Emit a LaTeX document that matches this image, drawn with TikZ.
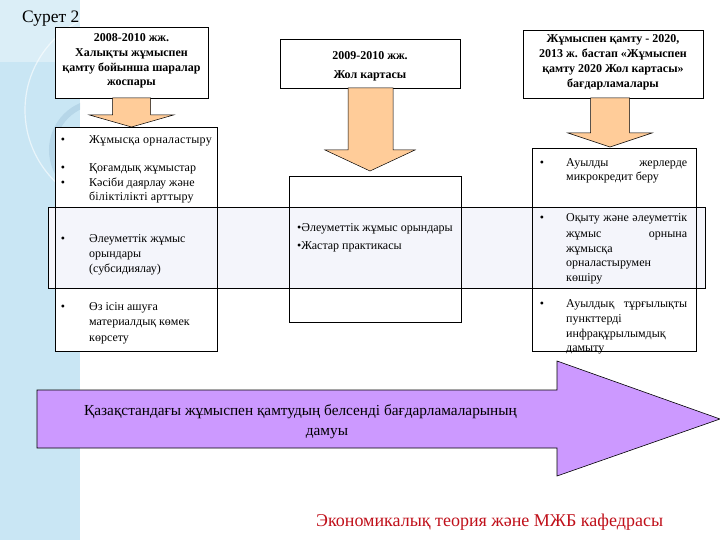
\documentclass[tikz,border=0pt]{standalone}
\usepackage{fontspec}
\setmainfont{Liberation Serif}
\usetikzlibrary{calc}
\definecolor{stripblue}{HTML}{C9E6F4}
\definecolor{peach}{HTML}{FFCC99}
\definecolor{lilac}{HTML}{CC99FF}
\definecolor{bandfill}{HTML}{F4F5FB}
\definecolor{footred}{HTML}{C0101A}
\definecolor{ringblue}{HTML}{9FC3DA}
\begin{document}
\begin{tikzpicture}[x=1pt,y=-1pt,
  box/.style={draw=black, line width=0.6pt, fill=white, inner sep=0, outer sep=0},
  headline/.style={anchor=base, inner sep=0, font=\bfseries\fontsize{12}{14}\selectfont},
  item/.style={anchor=base west, inner sep=0, font=\fontsize{12}{14}\selectfont},
  bul/.style={anchor=base, inner sep=0, font=\fontsize{12}{14}\selectfont},
  blockarrow/.style={fill=peach, draw=black, line width=0.5pt, line join=miter}]
\useasboundingbox (0,0) rectangle (720,540);
\fill[white] (0,0) rectangle (720,540);
% left decorative strip
\fill[stripblue] (0,0) rectangle (80,540);
\begin{scope}
  \clip (0,0) rectangle (80,540);
  \fill[white, opacity=0.35] (0,0) rectangle (80,62);
  \draw[white, opacity=0.6, line width=1.2pt] (125,110) circle (100);
  \draw[ringblue, opacity=0.45, line width=6pt] (100,150) circle (48);
\end{scope}
\node[anchor=base west, inner sep=0, font=\fontsize{17.5}{20}\selectfont] (title) at (22,23) {Сурет 2};

% top header boxes
\node[box, minimum width=153pt, minimum height=71pt] (b1) at (131.5,62.5) {};
\foreach \t [count=\i] in {2008-2010 жж., Халықты жұмыспен, қамту бойынша шаралар, жоспары}
  \node[headline] (b1l\i) at (131.5,{42+14.6*(\i-1)}) {\t};
\node[box, minimum width=180pt, minimum height=49pt] (b2) at (370,63.5) {};
\node[headline] (b2l1) at (370,60) {2009-2010 жж.};
\node[headline] (b2l2) at (370,79) {Жол картасы};
\node[box, minimum width=180pt, minimum height=68pt] (b3) at (613,64) {};
\foreach \t [count=\i] in {{Жұмыспен қамту - 2020,}, 2013 ж. бастап «Жұмыспен, қамту 2020 Жол картасы», бағдарламалары}
  \node[headline] (b3l\i) at (613,{43+14.8*(\i-1)}) {\t};

% content boxes
\node[box, minimum width=162pt, minimum height=224pt] (L) at (136,239) {};
\node[box, minimum width=172pt, minimum height=146pt] (M) at (375,249) {};
\node[box, minimum width=164pt, minimum height=203pt] (R) at (614,249.5) {};
% horizontal band
\node[draw=black, line width=0.6pt, fill=bandfill, inner sep=0, minimum width=657pt, minimum height=81pt] (band) at (376.5,247.5) {};
\draw[line width=0.6pt] (L.north west) rectangle (L.south east);
\draw[line width=0.6pt] (M.north west) rectangle (M.south east);
\draw[line width=0.6pt] (R.north west) rectangle (R.south east);

% block arrows from header boxes to content boxes
\draw[blockarrow] ($(b1.south)+(-19,0)$) -- ($(b1.south)+(19,0)$) -- ($(b1.south |- L.north)+(19,-12)$) -- ($(b1.south |- L.north)+(42,-12)$) -- (b1.south |- L.north) -- ($(b1.south |- L.north)+(-42,-12)$) -- ($(b1.south |- L.north)+(-19,-12)$) -- cycle;
\draw[blockarrow] ($(b2.south)+(-22,0)$) -- ($(b2.south)+(23,0)$) -- ($(b2.south |- M.north)+(23,-26)$) -- ($(b2.south |- M.north)+(45,-26)$) -- ($(b2.south |- M.north)+(0,-5)$) -- ($(b2.south |- M.north)+(-45,-26)$) -- ($(b2.south |- M.north)+(-22,-26)$) -- cycle;
\draw[blockarrow] ($(b3.south)+(-22.5,0)$) -- ($(b3.south)+(16.5,0)$) -- ($(b3.south |- R.north)+(16.5,-15)$) -- ($(b3.south |- R.north)+(39,-15)$) -- ($(b3.south |- R.north)+(-3,-1)$) -- ($(b3.south |- R.north)+(-45,-15)$) -- ($(b3.south |- R.north)+(-22.5,-15)$) -- cycle;

% left box items
\foreach \y [count=\i] in {144,172,187,242,310}
  \node[bul] (lb\i) at (63,\y) {•};
\node[item] (l1) at (89,144) {\addfontfeature{LetterSpace=2.5}Жұмысқа орналастыру};
\node[item] (l2) at (89,172) {Қоғамдық жұмыстар};
\node[item] (l3) at (89,187) {Кәсіби даярлау және};
\node[item] (l4) at (89,201) {\addfontfeature{LetterSpace=1.5}біліктілікті арттыру};
\node[item] (l5) at (89,242) {Әлеуметтік жұмыс};
\node[item] (l6) at (89,257) {орындары};
\node[item] (l7) at (89,272) {(субсидиялау)};
\node[item] (l8) at (89,310) {Өз ісін ашуға};
\node[item] (l9) at (89,325) {материалдық көмек};
\node[item] (l10) at (89,341) {көрсету};

% middle box items
\node[item] (m1) at (297,232) {•Әлеуметтік жұмыс орындары};
\node[item] (m2) at (297,249) {•Жастар практикасы};

% right box items
\foreach \y [count=\i] in {167,222,307}
  \node[bul] (rb\i) at (542,\y) {•};
\node[item] (r1) at (566,167) {\hbox to 121pt{Ауылды\hfill жерлерде}};
\node[item] (r2) at (566,181) {микрокредит беру};
\node[item] (r3) at (566,222) {\hbox to 121pt{Оқыту\hfill және\hfill әлеуметтік}};
\node[item] (r4) at (566,237) {\hbox to 121pt{жұмыс\hfill орнына}};
\node[item] (r5) at (566,252) {жұмысқа};
\node[item] (r6) at (566,266) {орналастырумен};
\node[item] (r7) at (566,281) {көшіру};
\node[item] (r8) at (566,307) {\hbox to 121pt{Ауылдық\hfill тұрғылықты}};
\node[item] (r9) at (566,322) {пункттерді};
\node[item] (r10) at (566,337) {инфрақұрылымдық};
\node[item] (r11) at (566,351) {дамыту};

% big purple arrow
\draw[fill=lilac, draw=black, line width=0.6pt, line join=miter] (37,390) -- (557,390) -- (557,361) -- (720,419) -- (557,476) -- (557,448) -- (37,448) -- cycle;
\node[anchor=base, inner sep=0, font=\fontsize{15.3}{18}\selectfont] (p1) at (300.5,415) {Қазақстандағы жұмыспен қамтудың белсенді бағдарламаларының};
\node[anchor=base, inner sep=0, font=\fontsize{15.3}{18}\selectfont] (p2) at (327,435) {дамуы};

% footer
\node[anchor=base west, inner sep=0, text=footred, font=\fontsize{18}{21}\selectfont] (foot) at (316,526) {Экономикалық теория және МЖБ кафедрасы};
\end{tikzpicture}
\end{document}
